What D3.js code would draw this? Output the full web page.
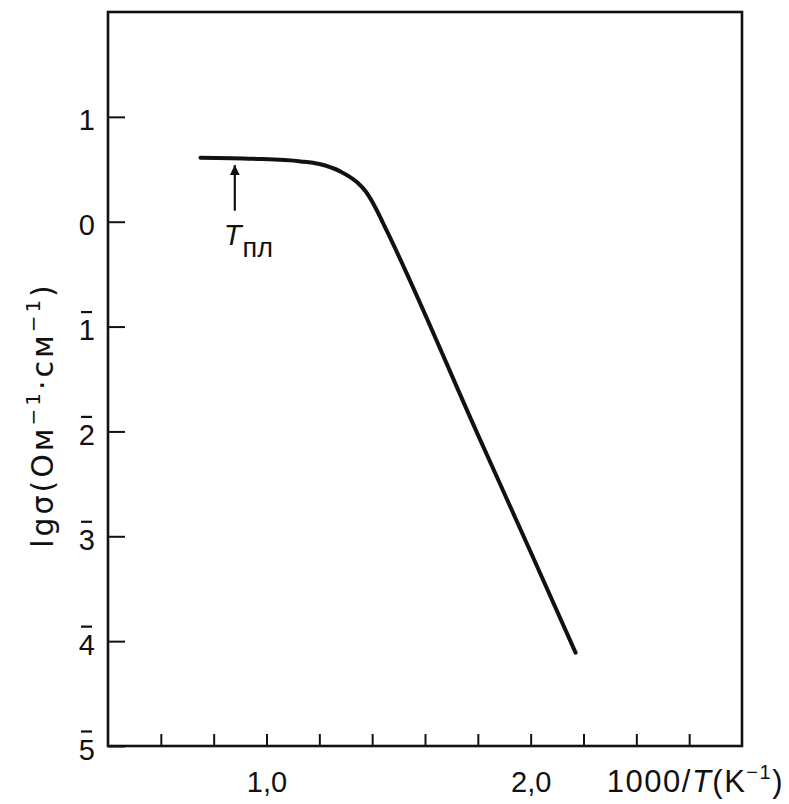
<!DOCTYPE html>
<html>
<head>
<meta charset="utf-8">
<script src="https://cdn.jsdelivr.net/npm/d3@7"></script>
<style>
  body { margin: 0; background: #fff; }
  svg text { font-family: "Liberation Sans", Arial, sans-serif; fill: #111; }
</style>
</head>
<body>
<script>
const w = 789;
const h = 804;

// plot frame
const plotLeft = 108, plotRight = 742, plotTop = 12, plotBottom = 746;

// curve: 1000/T vs lg sigma
const invT = [0.75, 0.95, 1.13, 1.20, 1.279, 1.342, 1.375, 1.405, 1.456, 1.80, 2.00, 2.17];
const lgSigma = [0.61, 0.60, 0.575, 0.55, 0.48, 0.378, 0.29, 0.17, -0.09, -2.03, -3.15, -4.11];

const xTicks = [0.6, 0.8, 1.0, 1.2, 1.4, 1.6, 1.8, 2.0, 2.2, 2.4, 2.6];
const xLabels = {"1": "1,0", "2": "2,0"};
const yTicks = [1, 0, -1, -2, -3, -4, -5];

// melting point arrow marker
const meltX = 0.88;
const meltArrow = [0.54, 0.105];

const svg = d3.select("body")
  .append("svg")
  .attr("width", w)
  .attr("height", h);

const x = d3.scaleLinear().domain([0.4, 2.8]).range([plotLeft, plotRight]);
const y = d3.scaleLinear().domain([-5, 2]).range([plotBottom, plotTop]);

// frame
svg.append("rect")
  .attr("x", x(0.4))
  .attr("y", y(2))
  .attr("width", x(2.8) - x(0.4))
  .attr("height", y(-5) - y(2))
  .attr("fill", "none")
  .attr("stroke", "#111")
  .attr("stroke-width", 2.6);

// x axis, ticks pointing inward
const xAxis = d3.axisBottom(x)
  .tickValues(xTicks)
  .tickSizeInner(-12)
  .tickSizeOuter(0)
  .tickFormat(d => xLabels[String(Math.round(d * 10) / 10)] || "");

const gx = svg.append("g")
  .attr("transform", "translate(0," + plotBottom + ")")
  .call(xAxis);
gx.select(".domain").remove();
gx.selectAll(".tick line").attr("stroke", "#111").attr("stroke-width", 2);
gx.selectAll(".tick text")
  .attr("y", 46)
  .attr("dy", 0)
  .style("font-size", "29px");

// y axis, ticks pointing inward, bar notation for negatives
const yAxis = d3.axisLeft(y)
  .tickValues(yTicks)
  .tickSizeInner(-17)
  .tickSizeOuter(0)
  .tickFormat(d => String(Math.abs(d)));

const gy = svg.append("g")
  .attr("transform", "translate(" + plotLeft + ",0)")
  .call(yAxis);
gy.select(".domain").remove();
gy.selectAll(".tick line").attr("stroke", "#111").attr("stroke-width", 2);
gy.selectAll(".tick text")
  .attr("x", -13)
  .attr("dy", 13)
  .style("font-size", "29px");
gy.selectAll(".tick")
  .filter(d => d < 0)
  .append("line")
  .attr("x1", -27)
  .attr("x2", -16)
  .attr("y1", -15)
  .attr("y2", -15)
  .attr("stroke", "#111")
  .attr("stroke-width", 2.2);

// the curve
const line = d3.line()
  .x((d, i) => x(invT[i]))
  .y((d, i) => y(lgSigma[i]))
  .curve(d3.curveMonotoneX);

svg.append("path")
  .datum(invT)
  .attr("d", line)
  .attr("fill", "none")
  .attr("stroke", "#111")
  .attr("stroke-width", 4)
  .attr("stroke-linecap", "round");

// arrow to T_пл
svg.append("defs").append("marker")
  .attr("id", "head")
  .attr("viewBox", "0 0 10 10")
  .attr("refX", 10)
  .attr("refY", 5)
  .attr("markerWidth", 5.5)
  .attr("markerHeight", 4.5)
  .attr("markerUnits", "strokeWidth")
  .attr("orient", "auto")
  .append("path")
  .attr("d", "M0,0 L10,5 L0,10 Z")
  .attr("fill", "#111");

svg.append("line")
  .attr("x1", x(meltX))
  .attr("x2", x(meltX))
  .attr("y1", y(meltArrow[1]))
  .attr("y2", y(meltArrow[0]))
  .attr("stroke", "#111")
  .attr("stroke-width", 2.2)
  .attr("marker-end", "url(#head)");

const tl = svg.append("text")
  .attr("x", x(meltX) - 11)
  .attr("y", 245)
  .style("font-size", "29px");
tl.append("tspan").style("font-style", "italic").text("T");
tl.append("tspan").attr("dy", 12).attr("dx", 1).style("font-size", "27px").text("пл");

// y axis title
const yt = svg.append("text")
  .attr("transform", "translate(53,415) rotate(-90)")
  .attr("text-anchor", "middle")
  .style("font-family", "'DejaVu Sans', sans-serif")
  .style("font-size", "30px")
  .style("letter-spacing", "3px");
yt.append("tspan").text("lgσ(Ом");
yt.append("tspan").attr("dy", -13).style("font-size", "20px").text("−1");
yt.append("tspan").attr("dy", 13).text("·см");
yt.append("tspan").attr("dy", -13).style("font-size", "20px").text("−1");
yt.append("tspan").attr("dy", 13).text(")");

// x axis title
const xt = svg.append("text")
  .attr("x", 784)
  .attr("y", 792)
  .attr("text-anchor", "end")
  .style("font-size", "31px")
  .style("letter-spacing", "1.5px");
xt.append("tspan").text("1000/");
xt.append("tspan").style("font-style", "italic").text("T");
xt.append("tspan").text("(K");
xt.append("tspan").attr("dy", -13).style("font-size", "20px").text("−1");
xt.append("tspan").attr("dy", 13).text(")");
</script>
</body>
</html>
